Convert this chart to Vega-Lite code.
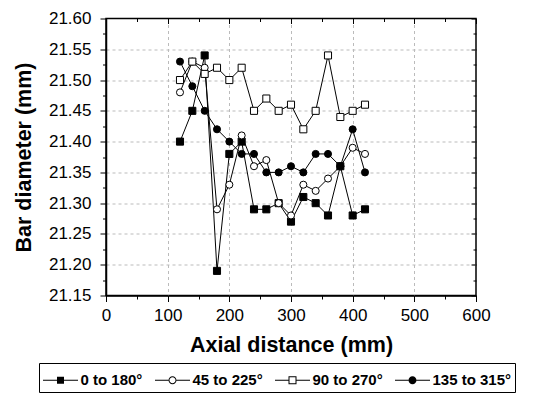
{
  "$schema": "https://vega.github.io/schema/vega-lite/v6.json",
  "width": 370,
  "height": 277,
  "autosize": {"type": "none"},
  "padding": {"left": 106, "top": 18.5, "right": 57, "bottom": 98.5},
  "background": "white",
  "config": {
    "font": "Liberation Sans",
    "view": {"stroke": "black", "strokeWidth": 1.5},
    "axis": {
      "labelFont": "Liberation Sans",
      "titleFont": "Liberation Sans",
      "labelColor": "black",
      "titleColor": "black",
      "domainColor": "black",
      "tickColor": "black",
      "tickWidth": 1
    },
    "legend": {
      "orient": "none",
      "legendX": -67,
      "legendY": 344.5,
      "direction": "horizontal",
      "strokeColor": "black",
      "padding": 3,
      "titleFontSize": 1,
      "titlePadding": 5.5,
      "labelFont": "Liberation Sans",
      "labelFontSize": 15,
      "labelFontWeight": "bold",
      "labelColor": "black",
      "labelLimit": 300,
      "symbolSize": 4,
      "symbolStrokeWidth": 0,
      "symbolFillColor": "black",
      "symbolOffset": 11,
      "labelOffset": 12.5,
      "columnPadding": 11
    }
  },
  "data": {
    "values": [
      {"x": 120, "y": 21.40, "s": "0 to 180°"},
      {"x": 140, "y": 21.45, "s": "0 to 180°"},
      {"x": 160, "y": 21.54, "s": "0 to 180°"},
      {"x": 180, "y": 21.19, "s": "0 to 180°"},
      {"x": 200, "y": 21.38, "s": "0 to 180°"},
      {"x": 220, "y": 21.40, "s": "0 to 180°"},
      {"x": 240, "y": 21.29, "s": "0 to 180°"},
      {"x": 260, "y": 21.29, "s": "0 to 180°"},
      {"x": 280, "y": 21.30, "s": "0 to 180°"},
      {"x": 300, "y": 21.27, "s": "0 to 180°"},
      {"x": 320, "y": 21.31, "s": "0 to 180°"},
      {"x": 340, "y": 21.30, "s": "0 to 180°"},
      {"x": 360, "y": 21.28, "s": "0 to 180°"},
      {"x": 380, "y": 21.36, "s": "0 to 180°"},
      {"x": 400, "y": 21.28, "s": "0 to 180°"},
      {"x": 420, "y": 21.29, "s": "0 to 180°"},
      {"x": 120, "y": 21.48, "s": "45 to 225°"},
      {"x": 140, "y": 21.53, "s": "45 to 225°"},
      {"x": 160, "y": 21.52, "s": "45 to 225°"},
      {"x": 180, "y": 21.29, "s": "45 to 225°"},
      {"x": 200, "y": 21.33, "s": "45 to 225°"},
      {"x": 220, "y": 21.41, "s": "45 to 225°"},
      {"x": 240, "y": 21.36, "s": "45 to 225°"},
      {"x": 260, "y": 21.37, "s": "45 to 225°"},
      {"x": 280, "y": 21.30, "s": "45 to 225°"},
      {"x": 300, "y": 21.28, "s": "45 to 225°"},
      {"x": 320, "y": 21.33, "s": "45 to 225°"},
      {"x": 340, "y": 21.32, "s": "45 to 225°"},
      {"x": 360, "y": 21.34, "s": "45 to 225°"},
      {"x": 380, "y": 21.36, "s": "45 to 225°"},
      {"x": 400, "y": 21.39, "s": "45 to 225°"},
      {"x": 420, "y": 21.38, "s": "45 to 225°"},
      {"x": 120, "y": 21.50, "s": "90 to 270°"},
      {"x": 140, "y": 21.53, "s": "90 to 270°"},
      {"x": 160, "y": 21.51, "s": "90 to 270°"},
      {"x": 180, "y": 21.52, "s": "90 to 270°"},
      {"x": 200, "y": 21.50, "s": "90 to 270°"},
      {"x": 220, "y": 21.52, "s": "90 to 270°"},
      {"x": 240, "y": 21.45, "s": "90 to 270°"},
      {"x": 260, "y": 21.47, "s": "90 to 270°"},
      {"x": 280, "y": 21.45, "s": "90 to 270°"},
      {"x": 300, "y": 21.46, "s": "90 to 270°"},
      {"x": 320, "y": 21.42, "s": "90 to 270°"},
      {"x": 340, "y": 21.45, "s": "90 to 270°"},
      {"x": 360, "y": 21.54, "s": "90 to 270°"},
      {"x": 380, "y": 21.44, "s": "90 to 270°"},
      {"x": 400, "y": 21.45, "s": "90 to 270°"},
      {"x": 420, "y": 21.46, "s": "90 to 270°"},
      {"x": 120, "y": 21.53, "s": "135 to 315°"},
      {"x": 140, "y": 21.49, "s": "135 to 315°"},
      {"x": 160, "y": 21.45, "s": "135 to 315°"},
      {"x": 180, "y": 21.42, "s": "135 to 315°"},
      {"x": 200, "y": 21.40, "s": "135 to 315°"},
      {"x": 220, "y": 21.38, "s": "135 to 315°"},
      {"x": 240, "y": 21.38, "s": "135 to 315°"},
      {"x": 260, "y": 21.35, "s": "135 to 315°"},
      {"x": 280, "y": 21.35, "s": "135 to 315°"},
      {"x": 300, "y": 21.36, "s": "135 to 315°"},
      {"x": 320, "y": 21.35, "s": "135 to 315°"},
      {"x": 340, "y": 21.38, "s": "135 to 315°"},
      {"x": 360, "y": 21.38, "s": "135 to 315°"},
      {"x": 380, "y": 21.36, "s": "135 to 315°"},
      {"x": 400, "y": 21.42, "s": "135 to 315°"},
      {"x": 420, "y": 21.35, "s": "135 to 315°"}
    ]
  },
  "resolve": {
    "axis": {"x": "independent", "y": "independent"},
    "scale": {"shape": "independent"},
    "legend": {"shape": "independent"}
  },
  "layer": [
    {
      "mark": {"type": "line", "color": "black", "strokeWidth": 1},
      "encoding": {
        "x": {
          "field": "x",
          "type": "quantitative",
          "scale": {"domain": [0, 600], "nice": false},
          "axis": {
            "orient": "bottom",
            "values": [0, 50, 100, 150, 200, 250, 300, 350, 400, 450, 500, 550, 600],
            "labelExpr": "datum.value % 100 == 0 ? datum.label : ''",
            "format": "d",
            "labelOverlap": false,
            "labelFlush": false,
            "labelFontSize": 17,
            "labelPadding": 6,
            "tickSize": {"condition": {"test": "datum.value % 100 == 0", "value": 6}, "value": 3.5},
            "grid": true,
            "gridColor": "#bbbbbb",
            "gridDash": [3, 3],
            "gridOpacity": {"condition": {"test": "datum.value % 100 == 0 && datum.value > 0 && datum.value < 600", "value": 1}, "value": 0},
            "domainWidth": 1.5,
            "title": "Axial distance (mm)",
            "titleFontSize": 21.5,
            "titleFontWeight": "bold",
            "titlePadding": 11
          }
        },
        "y": {
          "field": "y",
          "type": "quantitative",
          "scale": {"domain": [21.15, 21.6], "nice": false, "zero": false},
          "axis": {
            "orient": "left",
            "values": [21.15, 21.175, 21.2, 21.225, 21.25, 21.275, 21.3, 21.325, 21.35, 21.375, 21.4, 21.425, 21.45, 21.475, 21.5, 21.525, 21.55, 21.575, 21.6],
            "labelExpr": "abs(round(datum.value * 1000) % 50) == 0 ? format(datum.value, '.2f') : ''",
            "labelOverlap": false,
            "labelFlush": false,
            "labelFontSize": 17,
            "labelPadding": 9,
            "tickSize": {"condition": {"test": "abs(round(datum.value * 1000) % 50) == 0", "value": 6}, "value": 3.5},
            "grid": true,
            "gridColor": "#bbbbbb",
            "gridDash": [3, 3],
            "gridOpacity": {"condition": {"test": "abs(round(datum.value * 1000) % 50) == 0 && datum.value > 21.16 && datum.value < 21.59", "value": 1}, "value": 0},
            "domainWidth": 1.5,
            "title": "Bar diameter (mm)",
            "titleFontSize": 21.5,
            "titleFontWeight": "bold",
            "titlePadding": 13
          }
        },
        "detail": {"field": "s"}
      }
    },
    {
      "mark": {"type": "point", "stroke": "black", "strokeWidth": 1, "opacity": 1, "size": 50},
      "encoding": {
        "x": {
          "field": "x",
          "type": "quantitative",
          "axis": {
            "orient": "top",
            "values": [0, 50, 100, 150, 200, 250, 300, 350, 400, 450, 500, 550, 600],
            "labels": false,
            "domain": false,
            "grid": false,
            "title": null,
            "tickSize": {"condition": {"test": "datum.value % 100 == 0", "value": -5}, "value": -3}
          }
        },
        "y": {
          "field": "y",
          "type": "quantitative",
          "axis": {
            "orient": "right",
            "values": [21.15, 21.175, 21.2, 21.225, 21.25, 21.275, 21.3, 21.325, 21.35, 21.375, 21.4, 21.425, 21.45, 21.475, 21.5, 21.525, 21.55, 21.575, 21.6],
            "labels": false,
            "domain": false,
            "grid": false,
            "title": null,
            "tickSize": {"condition": {"test": "abs(round(datum.value * 1000) % 50) == 0", "value": -5}, "value": -3}
          }
        },
        "shape": {
          "field": "s",
          "type": "nominal",
          "scale": {"domain": ["0 to 180°", "45 to 225°", "90 to 270°", "135 to 315°"], "range": ["square", "circle", "square", "circle"]},
          "legend": null
        },
        "fill": {
          "field": "s",
          "type": "nominal",
          "scale": {"domain": ["0 to 180°", "45 to 225°", "90 to 270°", "135 to 315°"], "range": ["black", "white", "white", "black"]},
          "legend": null
        }
      }
    },
    {
      "transform": [{"filter": "datum.x < 0"}],
      "mark": {"type": "point", "filled": true, "color": "black", "strokeWidth": 0, "opacity": 1},
      "encoding": {
        "x": {"field": "x", "type": "quantitative", "axis": null},
        "y": {"field": "y", "type": "quantitative", "axis": null},
        "shape": {
          "field": "s",
          "type": "nominal",
          "scale": {
            "domain": ["0 to 180°", "45 to 225°", "90 to 270°", "135 to 315°"],
            "range": [
              "M-17.5,-0.5H-3.5V0.5H-17.5ZM-3.5,-3.5H3.5V3.5H-3.5ZM3.5,-0.5H17.5V0.5H3.5Z",
              "M-17.5,-0.5H-4V0.5H-17.5ZM-4,0A4,4,0,1,1,4,0A4,4,0,1,1,-4,0ZM-3,0A3,3,0,1,0,3,0A3,3,0,1,0,-3,0ZM4,-0.5H17.5V0.5H4Z",
              "M-17.5,-0.5H-4V0.5H-17.5ZM-4,-4H4V4H-4ZM-3,-3V3H3V-3ZM4,-0.5H17.5V0.5H4Z",
              "M-17.5,-0.5H-4V0.5H-17.5ZM-4,0A4,4,0,1,1,4,0A4,4,0,1,1,-4,0ZM4,-0.5H17.5V0.5H4Z"
            ]
          },
          "legend": {
            "title": " ",
            "labelExpr": "datum.label == '135 to 315°' ? datum.label + '\u00a0\u00a0\u00a0\u00a0\u00a0\u00a0\u00a0\u00a0' : datum.label"
          }
        }
      }
    }
  ]
}
